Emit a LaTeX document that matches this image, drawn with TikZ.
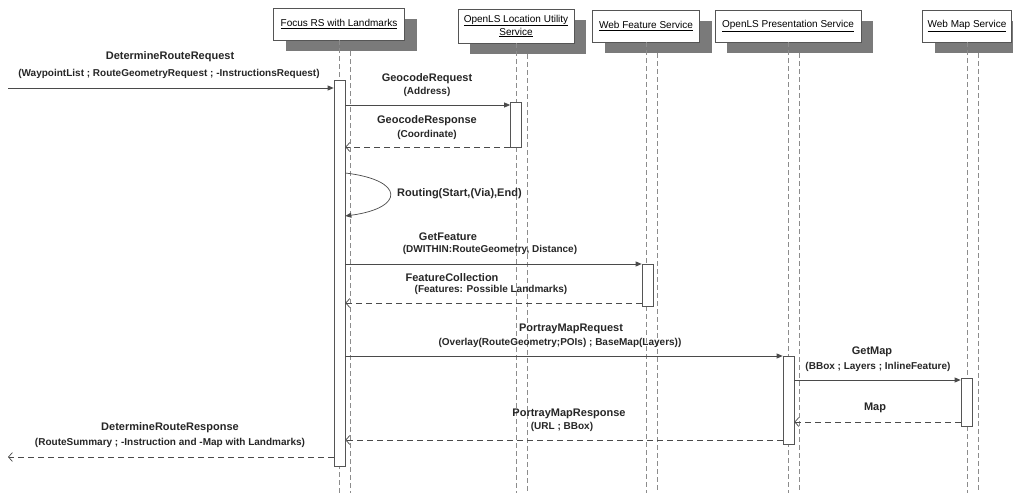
\documentclass[tikz,border=0pt]{standalone}
\usepackage{fontspec}
\setmainfont{Liberation Sans}
\usetikzlibrary{arrows.meta,shadows}
\definecolor{linec}{HTML}{4A4A4A}
\definecolor{lifec}{HTML}{8C8C8C}
\definecolor{boxc}{HTML}{555555}
\definecolor{shadc}{HTML}{7A7A7A}
\tikzset{
  hdr/.style={draw=boxc, line width=0.7pt, fill=white, inner sep=2pt, align=center,
    font=\fontsize{10}{12}\selectfont,
    general shadow={shadow xshift=12pt, shadow yshift=-11pt, fill=shadc}},
  life/.style={draw=lifec, line width=0.7pt, dash pattern=on 5pt off 3pt},
  act/.style={draw=boxc, line width=0.7pt, fill=white, minimum width=11pt, inner sep=0pt},
  msg/.style={draw=linec, line width=0.8pt, -{Triangle[length=6pt,width=5pt]}},
  ret/.style={draw=linec, line width=0.7pt, dash pattern=on 6pt off 4pt, -{Straight Barb[length=4pt,width=9pt]}},
  mname/.style={font=\fontsize{11}{13}\selectfont\bfseries, text=black!85, inner sep=0pt},
  mpar/.style={font=\fontsize{10}{12}\selectfont\bfseries, text=black!85, inner sep=0pt},
}
\begin{document}
\begin{tikzpicture}[x=1pt,y=-1pt]
\useasboundingbox (0,0) rectangle (1013,493);
% participants
\node[hdr, minimum width=131pt, minimum height=32pt] (p1) at (339,24) {\underline{Focus RS with Landmarks}};
\node[hdr, minimum width=116pt, minimum height=34pt] (p2) at (516,26) {\underline{OpenLS Location Utility}\\[1pt]\underline{Service}};
\node[hdr, minimum width=107pt, minimum height=32pt] (p3) at (646,26) {\underline{Web Feature Service}};
\node[hdr, minimum width=146pt, minimum height=32pt] (p4) at (788,26) {\underline{OpenLS Presentation Service}};
\node[hdr, minimum width=89pt, minimum height=32pt] (p5) at (967,26) {\underline{Web Map Service}};
% lifelines
\foreach \p in {p1,p2,p3,p4,p5}{
  \draw[life] (\p.south) -- (\p.south |- 0,493);
  \draw[life] ([xshift=11pt,yshift=-11pt]\p.south) -- ([xshift=11pt]\p.south |- 0,493);
}
% activations
\node[act, minimum height=386pt] (a1) at (339.5,273) {};
\node[act, minimum height=45pt] (a2) at (516,124.5) {};
\node[act, minimum height=42pt] (a3) at (647.5,285) {};
\node[act, minimum height=88pt] (a4) at (788.5,400) {};
\node[act, minimum height=48pt] (a5) at (966.5,402) {};
\coordinate (ein) at (8,88);
\coordinate (eout) at (8,457);
% messages
\draw[msg] (ein) -- (a1.west |- ein);
\node[mname] at (170,57) {DetermineRouteRequest};
\node[mpar] at (169,74) {(WaypointList ; RouteGeometryRequest ; -InstructionsRequest)};

\draw[msg] (a1.east |- 0,105) -- (a2.west |- 0,105);
\node[mname] at (427,79) {GeocodeRequest};
\node[mpar] at (427,92) {(Address)};

\draw[ret] (a2.west |- 0,147) -- (a1.east |- 0,147);
\node[mname] at (427,121) {GeocodeResponse};
\node[mpar] at (427,135) {(Coordinate)};

\draw[msg, line width=0.7pt] (a1.east |- 0,173) .. controls (405,180) and (405,208) .. (a1.east |- 0,216);
\node[mname, anchor=west] at (397,194) {Routing(Start,(Via),End)};

\draw[msg] (a1.east |- 0,264) -- (a3.west |- 0,264);
\node[mname] at (448,237) {GetFeature};
\node[mpar] at (490,250) {(DWITHIN:RouteGeometry, Distance)};

\draw[ret] (a3.west |- 0,303) -- (a1.east |- 0,303);
\node[mname] at (452,278) {FeatureCollection};
\node[mpar] at (491,290) {(Features: Possible Landmarks)};

\draw[msg] (a1.east |- 0,356) -- (a4.west |- 0,356);
\node[mname] at (571,329) {PortrayMapRequest};
\node[mpar] at (560,343) {(Overlay(RouteGeometry;POIs) ; BaseMap(Layers))};

\draw[msg] (a4.east |- 0,380) -- (a5.west |- 0,380);
\node[mname] at (872,352) {GetMap};
\node[mpar] at (878,367) {(BBox ; Layers ; InlineFeature)};

\draw[ret] (a5.west |- 0,422) -- (a4.east |- 0,422);
\node[mname] at (875,408) {Map};

\draw[ret] (a4.west |- 0,440) -- (a1.east |- 0,440);
\node[mname] at (569,414) {PortrayMapResponse};
\node[mpar] at (562,427) {(URL ; BBox)};

\draw[ret] (a1.west |- eout) -- (eout);
\node[mname] at (170,428) {DetermineRouteResponse};
\node[mpar] at (170,443) {(RouteSummary ; -Instruction and -Map with Landmarks)};
\end{tikzpicture}
\end{document}
